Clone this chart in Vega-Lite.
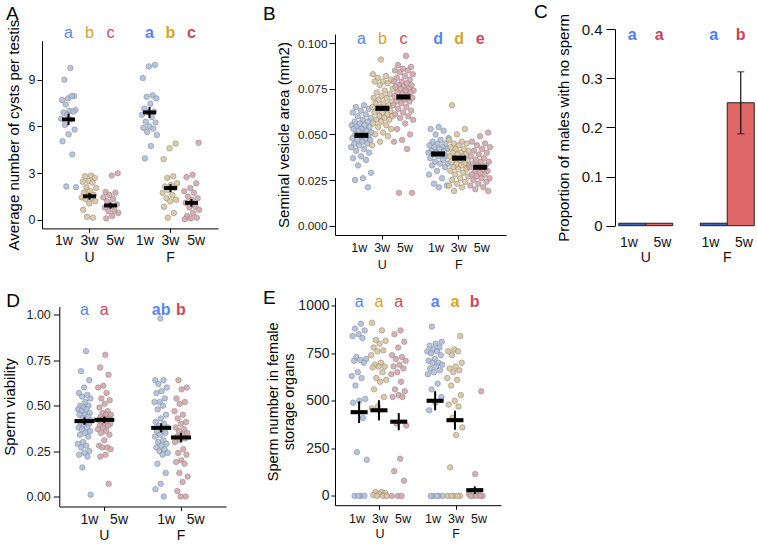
{
"$schema":"https://vega.github.io/schema/vega-lite/v6.json",
"padding":{"left":2,"top":3,"right":0,"bottom":0},
"background":"white",
"config":{"view":{"stroke":null},"font":"Liberation Sans",
 "axis":{"domainColor":"#000","tickColor":"#000","labelColor":"#222","titleColor":"#000","titleFontWeight":"normal","grid":false,"labelFont":"Liberation Sans","titleFont":"Liberation Sans"},
 "title":{"font":"Liberation Sans","fontWeight":"normal","fontSize":19,"anchor":"start","frame":"bounds","color":"#000"}},
"resolve":{"scale":{"fill":"independent","color":"independent"}},
"datasets":{
"A":[
{"g":"U","a":"1w","v":9.75},{"g":"U","a":"1w","v":9.0},{"g":"U","a":"1w","v":7.95},{"g":"U","a":"1w","v":7.8},{"g":"U","a":"1w","v":7.7},{"g":"U","a":"1w","v":7.95},{"g":"U","a":"1w","v":7.4},{"g":"U","a":"1w","v":7.05},{"g":"U","a":"1w","v":7.0},{"g":"U","a":"1w","v":6.9},{"g":"U","a":"1w","v":6.95},{"g":"U","a":"1w","v":6.75},{"g":"U","a":"1w","v":6.5},{"g":"U","a":"1w","v":6.45},{"g":"U","a":"1w","v":6.1},{"g":"U","a":"1w","v":5.8},{"g":"U","a":"1w","v":5.5},{"g":"U","a":"1w","v":5.05},{"g":"U","a":"1w","v":4.2},{"g":"U","a":"1w","v":2.15},{"g":"U","a":"1w","v":2.1},
{"g":"U","a":"3w","v":2.85},{"g":"U","a":"3w","v":2.8},{"g":"U","a":"3w","v":2.7},{"g":"U","a":"3w","v":2.5},{"g":"U","a":"3w","v":2.45},{"g":"U","a":"3w","v":2.4},{"g":"U","a":"3w","v":2.1},{"g":"U","a":"3w","v":2.05},{"g":"U","a":"3w","v":1.85},{"g":"U","a":"3w","v":1.75},{"g":"U","a":"3w","v":1.6},{"g":"U","a":"3w","v":1.55},{"g":"U","a":"3w","v":1.45},{"g":"U","a":"3w","v":1.4},{"g":"U","a":"3w","v":1.35},{"g":"U","a":"3w","v":1.2},{"g":"U","a":"3w","v":1.05},{"g":"U","a":"3w","v":0.65},{"g":"U","a":"3w","v":0.15},{"g":"U","a":"3w","v":0.2},
{"g":"U","a":"5w","v":3.0},{"g":"U","a":"5w","v":2.85},{"g":"U","a":"5w","v":1.8},{"g":"U","a":"5w","v":1.75},{"g":"U","a":"5w","v":1.6},{"g":"U","a":"5w","v":1.45},{"g":"U","a":"5w","v":1.35},{"g":"U","a":"5w","v":1.2},{"g":"U","a":"5w","v":1.0},{"g":"U","a":"5w","v":0.9},{"g":"U","a":"5w","v":0.8},{"g":"U","a":"5w","v":0.6},{"g":"U","a":"5w","v":0.55},{"g":"U","a":"5w","v":0.45},{"g":"U","a":"5w","v":0.25},{"g":"U","a":"5w","v":0.1},
{"g":"F","a":"1w","v":9.95},{"g":"F","a":"1w","v":9.85},{"g":"F","a":"1w","v":9.1},{"g":"F","a":"1w","v":8.0},{"g":"F","a":"1w","v":7.9},{"g":"F","a":"1w","v":7.8},{"g":"F","a":"1w","v":7.45},{"g":"F","a":"1w","v":7.15},{"g":"F","a":"1w","v":6.95},{"g":"F","a":"1w","v":6.9},{"g":"F","a":"1w","v":6.75},{"g":"F","a":"1w","v":6.6},{"g":"F","a":"1w","v":6.3},{"g":"F","a":"1w","v":6.25},{"g":"F","a":"1w","v":6.0},{"g":"F","a":"1w","v":5.9},{"g":"F","a":"1w","v":5.85},{"g":"F","a":"1w","v":5.65},{"g":"F","a":"1w","v":5.45},{"g":"F","a":"1w","v":4.75},{"g":"F","a":"1w","v":3.95},
{"g":"F","a":"3w","v":4.9},{"g":"F","a":"3w","v":4.6},{"g":"F","a":"3w","v":3.9},{"g":"F","a":"3w","v":2.8},{"g":"F","a":"3w","v":2.7},{"g":"F","a":"3w","v":2.35},{"g":"F","a":"3w","v":2.25},{"g":"F","a":"3w","v":2.15},{"g":"F","a":"3w","v":2.05},{"g":"F","a":"3w","v":1.9},{"g":"F","a":"3w","v":1.75},{"g":"F","a":"3w","v":1.6},{"g":"F","a":"3w","v":1.4},{"g":"F","a":"3w","v":1.3},{"g":"F","a":"3w","v":1.2},{"g":"F","a":"3w","v":0.85},{"g":"F","a":"3w","v":0.45},{"g":"F","a":"3w","v":0.15},
{"g":"F","a":"5w","v":4.95},{"g":"F","a":"5w","v":2.9},{"g":"F","a":"5w","v":2.75},{"g":"F","a":"5w","v":2.35},{"g":"F","a":"5w","v":2.05},{"g":"F","a":"5w","v":1.85},{"g":"F","a":"5w","v":1.75},{"g":"F","a":"5w","v":1.5},{"g":"F","a":"5w","v":1.4},{"g":"F","a":"5w","v":1.3},{"g":"F","a":"5w","v":1.1},{"g":"F","a":"5w","v":0.85},{"g":"F","a":"5w","v":0.8},{"g":"F","a":"5w","v":0.65},{"g":"F","a":"5w","v":0.45},{"g":"F","a":"5w","v":0.25},{"g":"F","a":"5w","v":0.15},{"g":"F","a":"5w","v":0.1},{"g":"F","a":"5w","v":0.05}
],
"Am":[{"g":"U","a":"1w","m":6.45,"lo":6.08,"hi":6.82},{"g":"U","a":"3w","m":1.52,"lo":1.3,"hi":1.74},{"g":"U","a":"5w","m":0.93,"lo":0.73,"hi":1.13},{"g":"F","a":"1w","m":6.9,"lo":6.55,"hi":7.25},{"g":"F","a":"3w","m":2.05,"lo":1.8,"hi":2.3},{"g":"F","a":"5w","m":1.1,"lo":0.85,"hi":1.35}],
"Al":[{"g":"U","a":"1w","t":"a"},{"g":"U","a":"3w","t":"b"},{"g":"U","a":"5w","t":"c"},{"g":"F","a":"1w","t":"a"},{"g":"F","a":"3w","t":"b"},{"g":"F","a":"5w","t":"c"}],
"B":[
{"g":"U","a":"1w","v":0.066},{"g":"U","a":"1w","v":0.065},{"g":"U","a":"1w","v":0.064},{"g":"U","a":"1w","v":0.063},{"g":"U","a":"1w","v":0.062},{"g":"U","a":"1w","v":0.061},{"g":"U","a":"1w","v":0.060},{"g":"U","a":"1w","v":0.059},{"g":"U","a":"1w","v":0.058},{"g":"U","a":"1w","v":0.057},{"g":"U","a":"1w","v":0.057},{"g":"U","a":"1w","v":0.056},{"g":"U","a":"1w","v":0.055},{"g":"U","a":"1w","v":0.055},{"g":"U","a":"1w","v":0.054},{"g":"U","a":"1w","v":0.054},{"g":"U","a":"1w","v":0.053},{"g":"U","a":"1w","v":0.053},{"g":"U","a":"1w","v":0.052},{"g":"U","a":"1w","v":0.052},{"g":"U","a":"1w","v":0.051},{"g":"U","a":"1w","v":0.050},{"g":"U","a":"1w","v":0.050},{"g":"U","a":"1w","v":0.049},{"g":"U","a":"1w","v":0.049},{"g":"U","a":"1w","v":0.048},{"g":"U","a":"1w","v":0.048},{"g":"U","a":"1w","v":0.047},{"g":"U","a":"1w","v":0.047},{"g":"U","a":"1w","v":0.046},{"g":"U","a":"1w","v":0.045},{"g":"U","a":"1w","v":0.045},{"g":"U","a":"1w","v":0.044},{"g":"U","a":"1w","v":0.043},{"g":"U","a":"1w","v":0.042},{"g":"U","a":"1w","v":0.041},{"g":"U","a":"1w","v":0.040},{"g":"U","a":"1w","v":0.038},{"g":"U","a":"1w","v":0.037},{"g":"U","a":"1w","v":0.036},{"g":"U","a":"1w","v":0.033},{"g":"U","a":"1w","v":0.029},{"g":"U","a":"1w","v":0.026},{"g":"U","a":"1w","v":0.025},{"g":"U","a":"1w","v":0.021},
{"g":"U","a":"3w","v":0.091},{"g":"U","a":"3w","v":0.083},{"g":"U","a":"3w","v":0.082},{"g":"U","a":"3w","v":0.081},{"g":"U","a":"3w","v":0.080},{"g":"U","a":"3w","v":0.079},{"g":"U","a":"3w","v":0.079},{"g":"U","a":"3w","v":0.078},{"g":"U","a":"3w","v":0.077},{"g":"U","a":"3w","v":0.075},{"g":"U","a":"3w","v":0.074},{"g":"U","a":"3w","v":0.073},{"g":"U","a":"3w","v":0.072},{"g":"U","a":"3w","v":0.071},{"g":"U","a":"3w","v":0.070},{"g":"U","a":"3w","v":0.070},{"g":"U","a":"3w","v":0.069},{"g":"U","a":"3w","v":0.068},{"g":"U","a":"3w","v":0.067},{"g":"U","a":"3w","v":0.067},{"g":"U","a":"3w","v":0.066},{"g":"U","a":"3w","v":0.065},{"g":"U","a":"3w","v":0.065},{"g":"U","a":"3w","v":0.064},{"g":"U","a":"3w","v":0.063},{"g":"U","a":"3w","v":0.063},{"g":"U","a":"3w","v":0.062},{"g":"U","a":"3w","v":0.062},{"g":"U","a":"3w","v":0.061},{"g":"U","a":"3w","v":0.060},{"g":"U","a":"3w","v":0.060},{"g":"U","a":"3w","v":0.059},{"g":"U","a":"3w","v":0.058},{"g":"U","a":"3w","v":0.058},{"g":"U","a":"3w","v":0.057},{"g":"U","a":"3w","v":0.056},{"g":"U","a":"3w","v":0.055},{"g":"U","a":"3w","v":0.054},{"g":"U","a":"3w","v":0.053},{"g":"U","a":"3w","v":0.051},{"g":"U","a":"3w","v":0.050},{"g":"U","a":"3w","v":0.049},{"g":"U","a":"3w","v":0.046},{"g":"U","a":"3w","v":0.044},
{"g":"U","a":"5w","v":0.093},{"g":"U","a":"5w","v":0.088},{"g":"U","a":"5w","v":0.087},{"g":"U","a":"5w","v":0.086},{"g":"U","a":"5w","v":0.085},{"g":"U","a":"5w","v":0.085},{"g":"U","a":"5w","v":0.084},{"g":"U","a":"5w","v":0.083},{"g":"U","a":"5w","v":0.082},{"g":"U","a":"5w","v":0.081},{"g":"U","a":"5w","v":0.080},{"g":"U","a":"5w","v":0.079},{"g":"U","a":"5w","v":0.079},{"g":"U","a":"5w","v":0.078},{"g":"U","a":"5w","v":0.077},{"g":"U","a":"5w","v":0.077},{"g":"U","a":"5w","v":0.076},{"g":"U","a":"5w","v":0.076},{"g":"U","a":"5w","v":0.075},{"g":"U","a":"5w","v":0.075},{"g":"U","a":"5w","v":0.074},{"g":"U","a":"5w","v":0.074},{"g":"U","a":"5w","v":0.073},{"g":"U","a":"5w","v":0.073},{"g":"U","a":"5w","v":0.072},{"g":"U","a":"5w","v":0.071},{"g":"U","a":"5w","v":0.071},{"g":"U","a":"5w","v":0.070},{"g":"U","a":"5w","v":0.070},{"g":"U","a":"5w","v":0.069},{"g":"U","a":"5w","v":0.068},{"g":"U","a":"5w","v":0.068},{"g":"U","a":"5w","v":0.067},{"g":"U","a":"5w","v":0.066},{"g":"U","a":"5w","v":0.065},{"g":"U","a":"5w","v":0.064},{"g":"U","a":"5w","v":0.063},{"g":"U","a":"5w","v":0.062},{"g":"U","a":"5w","v":0.061},{"g":"U","a":"5w","v":0.060},{"g":"U","a":"5w","v":0.059},{"g":"U","a":"5w","v":0.058},{"g":"U","a":"5w","v":0.056},{"g":"U","a":"5w","v":0.053},{"g":"U","a":"5w","v":0.050},{"g":"U","a":"5w","v":0.047},{"g":"U","a":"5w","v":0.046},{"g":"U","a":"5w","v":0.042},{"g":"U","a":"5w","v":0.018},{"g":"U","a":"5w","v":0.018},
{"g":"F","a":"1w","v":0.054},{"g":"F","a":"1w","v":0.053},{"g":"F","a":"1w","v":0.052},{"g":"F","a":"1w","v":0.050},{"g":"F","a":"1w","v":0.048},{"g":"F","a":"1w","v":0.047},{"g":"F","a":"1w","v":0.046},{"g":"F","a":"1w","v":0.045},{"g":"F","a":"1w","v":0.045},{"g":"F","a":"1w","v":0.044},{"g":"F","a":"1w","v":0.043},{"g":"F","a":"1w","v":0.043},{"g":"F","a":"1w","v":0.042},{"g":"F","a":"1w","v":0.042},{"g":"F","a":"1w","v":0.041},{"g":"F","a":"1w","v":0.041},{"g":"F","a":"1w","v":0.040},{"g":"F","a":"1w","v":0.040},{"g":"F","a":"1w","v":0.039},{"g":"F","a":"1w","v":0.039},{"g":"F","a":"1w","v":0.038},{"g":"F","a":"1w","v":0.038},{"g":"F","a":"1w","v":0.037},{"g":"F","a":"1w","v":0.036},{"g":"F","a":"1w","v":0.035},{"g":"F","a":"1w","v":0.034},{"g":"F","a":"1w","v":0.034},{"g":"F","a":"1w","v":0.033},{"g":"F","a":"1w","v":0.032},{"g":"F","a":"1w","v":0.030},{"g":"F","a":"1w","v":0.028},{"g":"F","a":"1w","v":0.026},{"g":"F","a":"1w","v":0.023},{"g":"F","a":"1w","v":0.022},{"g":"F","a":"1w","v":0.021},
{"g":"F","a":"3w","v":0.066},{"g":"F","a":"3w","v":0.053},{"g":"F","a":"3w","v":0.050},{"g":"F","a":"3w","v":0.047},{"g":"F","a":"3w","v":0.046},{"g":"F","a":"3w","v":0.045},{"g":"F","a":"3w","v":0.045},{"g":"F","a":"3w","v":0.044},{"g":"F","a":"3w","v":0.043},{"g":"F","a":"3w","v":0.042},{"g":"F","a":"3w","v":0.042},{"g":"F","a":"3w","v":0.041},{"g":"F","a":"3w","v":0.040},{"g":"F","a":"3w","v":0.040},{"g":"F","a":"3w","v":0.039},{"g":"F","a":"3w","v":0.039},{"g":"F","a":"3w","v":0.038},{"g":"F","a":"3w","v":0.038},{"g":"F","a":"3w","v":0.037},{"g":"F","a":"3w","v":0.036},{"g":"F","a":"3w","v":0.036},{"g":"F","a":"3w","v":0.035},{"g":"F","a":"3w","v":0.034},{"g":"F","a":"3w","v":0.034},{"g":"F","a":"3w","v":0.033},{"g":"F","a":"3w","v":0.033},{"g":"F","a":"3w","v":0.032},{"g":"F","a":"3w","v":0.031},{"g":"F","a":"3w","v":0.031},{"g":"F","a":"3w","v":0.030},{"g":"F","a":"3w","v":0.029},{"g":"F","a":"3w","v":0.028},{"g":"F","a":"3w","v":0.027},{"g":"F","a":"3w","v":0.026},{"g":"F","a":"3w","v":0.025},{"g":"F","a":"3w","v":0.024},{"g":"F","a":"3w","v":0.023},{"g":"F","a":"3w","v":0.022},{"g":"F","a":"3w","v":0.021},{"g":"F","a":"3w","v":0.019},
{"g":"F","a":"5w","v":0.051},{"g":"F","a":"5w","v":0.049},{"g":"F","a":"5w","v":0.046},{"g":"F","a":"5w","v":0.045},{"g":"F","a":"5w","v":0.044},{"g":"F","a":"5w","v":0.043},{"g":"F","a":"5w","v":0.042},{"g":"F","a":"5w","v":0.041},{"g":"F","a":"5w","v":0.040},{"g":"F","a":"5w","v":0.039},{"g":"F","a":"5w","v":0.038},{"g":"F","a":"5w","v":0.037},{"g":"F","a":"5w","v":0.036},{"g":"F","a":"5w","v":0.035},{"g":"F","a":"5w","v":0.035},{"g":"F","a":"5w","v":0.034},{"g":"F","a":"5w","v":0.033},{"g":"F","a":"5w","v":0.033},{"g":"F","a":"5w","v":0.032},{"g":"F","a":"5w","v":0.031},{"g":"F","a":"5w","v":0.030},{"g":"F","a":"5w","v":0.030},{"g":"F","a":"5w","v":0.029},{"g":"F","a":"5w","v":0.028},{"g":"F","a":"5w","v":0.028},{"g":"F","a":"5w","v":0.027},{"g":"F","a":"5w","v":0.026},{"g":"F","a":"5w","v":0.026},{"g":"F","a":"5w","v":0.025},{"g":"F","a":"5w","v":0.024},{"g":"F","a":"5w","v":0.023},{"g":"F","a":"5w","v":0.022},{"g":"F","a":"5w","v":0.021},{"g":"F","a":"5w","v":0.020},{"g":"F","a":"5w","v":0.019}
],
"Bm":[{"g":"U","a":"1w","m":0.0495,"lo":0.0483,"hi":0.0507},{"g":"U","a":"3w","m":0.0643,"lo":0.0631,"hi":0.0655},{"g":"U","a":"5w","m":0.0705,"lo":0.0693,"hi":0.0717},{"g":"F","a":"1w","m":0.0393,"lo":0.0383,"hi":0.0403},{"g":"F","a":"3w","m":0.037,"lo":0.036,"hi":0.038},{"g":"F","a":"5w","m":0.032,"lo":0.031,"hi":0.033}],
"Bl":[{"g":"U","a":"1w","t":"a"},{"g":"U","a":"3w","t":"b"},{"g":"U","a":"5w","t":"c"},{"g":"F","a":"1w","t":"d"},{"g":"F","a":"3w","t":"d"},{"g":"F","a":"5w","t":"e"}],
"C":[{"g":"U","a":"1w","v":0.005},{"g":"U","a":"5w","v":0.005},{"g":"F","a":"1w","v":0.005},{"g":"F","a":"5w","v":0.25,"lo":0.187,"hi":0.313}],
"Cl":[{"g":"U","a":"1w","t":"a"},{"g":"U","a":"5w","t":"a"},{"g":"F","a":"1w","t":"a"},{"g":"F","a":"5w","t":"b"}],
"D":[
{"g":"U","a":"1w","v":0.80},{"g":"U","a":"1w","v":0.69},{"g":"U","a":"1w","v":0.64},{"g":"U","a":"1w","v":0.60},{"g":"U","a":"1w","v":0.57},{"g":"U","a":"1w","v":0.56},{"g":"U","a":"1w","v":0.55},{"g":"U","a":"1w","v":0.54},{"g":"U","a":"1w","v":0.52},{"g":"U","a":"1w","v":0.50},{"g":"U","a":"1w","v":0.50},{"g":"U","a":"1w","v":0.49},{"g":"U","a":"1w","v":0.48},{"g":"U","a":"1w","v":0.48},{"g":"U","a":"1w","v":0.47},{"g":"U","a":"1w","v":0.46},{"g":"U","a":"1w","v":0.45},{"g":"U","a":"1w","v":0.45},{"g":"U","a":"1w","v":0.44},{"g":"U","a":"1w","v":0.43},{"g":"U","a":"1w","v":0.42},{"g":"U","a":"1w","v":0.41},{"g":"U","a":"1w","v":0.40},{"g":"U","a":"1w","v":0.40},{"g":"U","a":"1w","v":0.39},{"g":"U","a":"1w","v":0.38},{"g":"U","a":"1w","v":0.38},{"g":"U","a":"1w","v":0.37},{"g":"U","a":"1w","v":0.36},{"g":"U","a":"1w","v":0.35},{"g":"U","a":"1w","v":0.34},{"g":"U","a":"1w","v":0.33},{"g":"U","a":"1w","v":0.30},{"g":"U","a":"1w","v":0.29},{"g":"U","a":"1w","v":0.28},{"g":"U","a":"1w","v":0.27},{"g":"U","a":"1w","v":0.25},{"g":"U","a":"1w","v":0.24},{"g":"U","a":"1w","v":0.23},{"g":"U","a":"1w","v":0.22},{"g":"U","a":"1w","v":0.16},{"g":"U","a":"1w","v":0.01},
{"g":"U","a":"5w","v":0.78},{"g":"U","a":"5w","v":0.71},{"g":"U","a":"5w","v":0.67},{"g":"U","a":"5w","v":0.61},{"g":"U","a":"5w","v":0.60},{"g":"U","a":"5w","v":0.57},{"g":"U","a":"5w","v":0.54},{"g":"U","a":"5w","v":0.53},{"g":"U","a":"5w","v":0.51},{"g":"U","a":"5w","v":0.49},{"g":"U","a":"5w","v":0.47},{"g":"U","a":"5w","v":0.46},{"g":"U","a":"5w","v":0.45},{"g":"U","a":"5w","v":0.45},{"g":"U","a":"5w","v":0.44},{"g":"U","a":"5w","v":0.43},{"g":"U","a":"5w","v":0.43},{"g":"U","a":"5w","v":0.42},{"g":"U","a":"5w","v":0.42},{"g":"U","a":"5w","v":0.41},{"g":"U","a":"5w","v":0.40},{"g":"U","a":"5w","v":0.40},{"g":"U","a":"5w","v":0.39},{"g":"U","a":"5w","v":0.39},{"g":"U","a":"5w","v":0.38},{"g":"U","a":"5w","v":0.37},{"g":"U","a":"5w","v":0.36},{"g":"U","a":"5w","v":0.35},{"g":"U","a":"5w","v":0.34},{"g":"U","a":"5w","v":0.31},{"g":"U","a":"5w","v":0.28},{"g":"U","a":"5w","v":0.27},{"g":"U","a":"5w","v":0.27},{"g":"U","a":"5w","v":0.26},{"g":"U","a":"5w","v":0.23},{"g":"U","a":"5w","v":0.22},{"g":"U","a":"5w","v":0.07},
{"g":"F","a":"1w","v":0.98},{"g":"F","a":"1w","v":0.64},{"g":"F","a":"1w","v":0.64},{"g":"F","a":"1w","v":0.62},{"g":"F","a":"1w","v":0.60},{"g":"F","a":"1w","v":0.58},{"g":"F","a":"1w","v":0.57},{"g":"F","a":"1w","v":0.54},{"g":"F","a":"1w","v":0.52},{"g":"F","a":"1w","v":0.52},{"g":"F","a":"1w","v":0.50},{"g":"F","a":"1w","v":0.48},{"g":"F","a":"1w","v":0.45},{"g":"F","a":"1w","v":0.43},{"g":"F","a":"1w","v":0.41},{"g":"F","a":"1w","v":0.40},{"g":"F","a":"1w","v":0.39},{"g":"F","a":"1w","v":0.38},{"g":"F","a":"1w","v":0.37},{"g":"F","a":"1w","v":0.36},{"g":"F","a":"1w","v":0.35},{"g":"F","a":"1w","v":0.34},{"g":"F","a":"1w","v":0.33},{"g":"F","a":"1w","v":0.31},{"g":"F","a":"1w","v":0.30},{"g":"F","a":"1w","v":0.29},{"g":"F","a":"1w","v":0.28},{"g":"F","a":"1w","v":0.27},{"g":"F","a":"1w","v":0.26},{"g":"F","a":"1w","v":0.25},{"g":"F","a":"1w","v":0.24},{"g":"F","a":"1w","v":0.23},{"g":"F","a":"1w","v":0.18},{"g":"F","a":"1w","v":0.13},{"g":"F","a":"1w","v":0.07},{"g":"F","a":"1w","v":0.04},{"g":"F","a":"1w","v":0.00},
{"g":"F","a":"5w","v":0.64},{"g":"F","a":"5w","v":0.60},{"g":"F","a":"5w","v":0.59},{"g":"F","a":"5w","v":0.54},{"g":"F","a":"5w","v":0.52},{"g":"F","a":"5w","v":0.51},{"g":"F","a":"5w","v":0.47},{"g":"F","a":"5w","v":0.45},{"g":"F","a":"5w","v":0.43},{"g":"F","a":"5w","v":0.41},{"g":"F","a":"5w","v":0.40},{"g":"F","a":"5w","v":0.38},{"g":"F","a":"5w","v":0.37},{"g":"F","a":"5w","v":0.36},{"g":"F","a":"5w","v":0.35},{"g":"F","a":"5w","v":0.34},{"g":"F","a":"5w","v":0.33},{"g":"F","a":"5w","v":0.32},{"g":"F","a":"5w","v":0.31},{"g":"F","a":"5w","v":0.30},{"g":"F","a":"5w","v":0.26},{"g":"F","a":"5w","v":0.24},{"g":"F","a":"5w","v":0.23},{"g":"F","a":"5w","v":0.20},{"g":"F","a":"5w","v":0.19},{"g":"F","a":"5w","v":0.18},{"g":"F","a":"5w","v":0.13},{"g":"F","a":"5w","v":0.11},{"g":"F","a":"5w","v":0.08},{"g":"F","a":"5w","v":0.03},{"g":"F","a":"5w","v":0.00},{"g":"F","a":"5w","v":0.00}
],
"Dm":[{"g":"U","a":"1w","m":0.415,"lo":0.395,"hi":0.435},{"g":"U","a":"5w","m":0.422,"lo":0.404,"hi":0.44},{"g":"F","a":"1w","m":0.378,"lo":0.353,"hi":0.403},{"g":"F","a":"5w","m":0.325,"lo":0.3,"hi":0.35}],
"Dl":[{"g":"U","a":"1w","t":"a"},{"g":"U","a":"5w","t":"a"},{"g":"F","a":"1w","t":"ab"},{"g":"F","a":"5w","t":"b"}],
"E":[
{"g":"U","a":"1w","v":905},{"g":"U","a":"1w","v":880},{"g":"U","a":"1w","v":870},{"g":"U","a":"1w","v":850},{"g":"U","a":"1w","v":840},{"g":"U","a":"1w","v":830},{"g":"U","a":"1w","v":730},{"g":"U","a":"1w","v":720},{"g":"U","a":"1w","v":715},{"g":"U","a":"1w","v":710},{"g":"U","a":"1w","v":700},{"g":"U","a":"1w","v":650},{"g":"U","a":"1w","v":630},{"g":"U","a":"1w","v":620},{"g":"U","a":"1w","v":580},{"g":"U","a":"1w","v":510},{"g":"U","a":"1w","v":500},{"g":"U","a":"1w","v":490},{"g":"U","a":"1w","v":410},{"g":"U","a":"1w","v":230},{"g":"U","a":"1w","v":190},{"g":"U","a":"1w","v":0},{"g":"U","a":"1w","v":0},{"g":"U","a":"1w","v":0},{"g":"U","a":"1w","v":0},
{"g":"U","a":"3w","v":910},{"g":"U","a":"3w","v":870},{"g":"U","a":"3w","v":820},{"g":"U","a":"3w","v":815},{"g":"U","a":"3w","v":800},{"g":"U","a":"3w","v":780},{"g":"U","a":"3w","v":765},{"g":"U","a":"3w","v":760},{"g":"U","a":"3w","v":740},{"g":"U","a":"3w","v":700},{"g":"U","a":"3w","v":690},{"g":"U","a":"3w","v":680},{"g":"U","a":"3w","v":680},{"g":"U","a":"3w","v":675},{"g":"U","a":"3w","v":650},{"g":"U","a":"3w","v":620},{"g":"U","a":"3w","v":610},{"g":"U","a":"3w","v":600},{"g":"U","a":"3w","v":560},{"g":"U","a":"3w","v":520},{"g":"U","a":"3w","v":470},{"g":"U","a":"3w","v":460},{"g":"U","a":"3w","v":20},{"g":"U","a":"3w","v":20},{"g":"U","a":"3w","v":15},{"g":"U","a":"3w","v":10},{"g":"U","a":"3w","v":5},{"g":"U","a":"3w","v":0},{"g":"U","a":"3w","v":0},{"g":"U","a":"3w","v":0},
{"g":"U","a":"5w","v":870},{"g":"U","a":"5w","v":850},{"g":"U","a":"5w","v":810},{"g":"U","a":"5w","v":780},{"g":"U","a":"5w","v":740},{"g":"U","a":"5w","v":730},{"g":"U","a":"5w","v":720},{"g":"U","a":"5w","v":710},{"g":"U","a":"5w","v":690},{"g":"U","a":"5w","v":680},{"g":"U","a":"5w","v":670},{"g":"U","a":"5w","v":650},{"g":"U","a":"5w","v":640},{"g":"U","a":"5w","v":600},{"g":"U","a":"5w","v":560},{"g":"U","a":"5w","v":550},{"g":"U","a":"5w","v":530},{"g":"U","a":"5w","v":520},{"g":"U","a":"5w","v":520},{"g":"U","a":"5w","v":380},{"g":"U","a":"5w","v":370},{"g":"U","a":"5w","v":195},{"g":"U","a":"5w","v":130},{"g":"U","a":"5w","v":80},{"g":"U","a":"5w","v":0},{"g":"U","a":"5w","v":0},{"g":"U","a":"5w","v":0},
{"g":"F","a":"1w","v":890},{"g":"F","a":"1w","v":810},{"g":"F","a":"1w","v":800},{"g":"F","a":"1w","v":790},{"g":"F","a":"1w","v":780},{"g":"F","a":"1w","v":770},{"g":"F","a":"1w","v":760},{"g":"F","a":"1w","v":760},{"g":"F","a":"1w","v":750},{"g":"F","a":"1w","v":740},{"g":"F","a":"1w","v":720},{"g":"F","a":"1w","v":710},{"g":"F","a":"1w","v":700},{"g":"F","a":"1w","v":700},{"g":"F","a":"1w","v":690},{"g":"F","a":"1w","v":680},{"g":"F","a":"1w","v":670},{"g":"F","a":"1w","v":660},{"g":"F","a":"1w","v":650},{"g":"F","a":"1w","v":640},{"g":"F","a":"1w","v":590},{"g":"F","a":"1w","v":560},{"g":"F","a":"1w","v":520},{"g":"F","a":"1w","v":490},{"g":"F","a":"1w","v":450},{"g":"F","a":"1w","v":0},{"g":"F","a":"1w","v":0},{"g":"F","a":"1w","v":0},{"g":"F","a":"1w","v":0},{"g":"F","a":"1w","v":0},
{"g":"F","a":"3w","v":840},{"g":"F","a":"3w","v":770},{"g":"F","a":"3w","v":760},{"g":"F","a":"3w","v":760},{"g":"F","a":"3w","v":740},{"g":"F","a":"3w","v":700},{"g":"F","a":"3w","v":680},{"g":"F","a":"3w","v":670},{"g":"F","a":"3w","v":660},{"g":"F","a":"3w","v":650},{"g":"F","a":"3w","v":620},{"g":"F","a":"3w","v":610},{"g":"F","a":"3w","v":580},{"g":"F","a":"3w","v":530},{"g":"F","a":"3w","v":500},{"g":"F","a":"3w","v":480},{"g":"F","a":"3w","v":470},{"g":"F","a":"3w","v":410},{"g":"F","a":"3w","v":360},{"g":"F","a":"3w","v":320},{"g":"F","a":"3w","v":150},{"g":"F","a":"3w","v":0},{"g":"F","a":"3w","v":0},{"g":"F","a":"3w","v":0},{"g":"F","a":"3w","v":0},{"g":"F","a":"3w","v":0},
{"g":"F","a":"5w","v":550},{"g":"F","a":"5w","v":115},{"g":"F","a":"5w","v":10},{"g":"F","a":"5w","v":5},{"g":"F","a":"5w","v":0},{"g":"F","a":"5w","v":0},{"g":"F","a":"5w","v":0},{"g":"F","a":"5w","v":0},{"g":"F","a":"5w","v":0}
],
"Em":[{"g":"U","a":"1w","m":440,"lo":383,"hi":497},{"g":"U","a":"3w","m":450,"lo":397,"hi":503},{"g":"U","a":"5w","m":390,"lo":345,"hi":435},{"g":"F","a":"1w","m":500,"lo":450,"hi":550},{"g":"F","a":"3w","m":398,"lo":348,"hi":448},{"g":"F","a":"5w","m":30,"lo":10,"hi":50}],
"El":[{"g":"U","a":"1w","t":"a"},{"g":"U","a":"3w","t":"a"},{"g":"U","a":"5w","t":"a"},{"g":"F","a":"1w","t":"a"},{"g":"F","a":"3w","t":"a"},{"g":"F","a":"5w","t":"b"}]
},
"vconcat":[
{"resolve":{"scale":{"fill":"independent","color":"independent"}},"hconcat":[
 {"resolve":{"scale":{"fill":"independent","color":"independent"}},"hconcat":[
  {"title":{"text":"A","offset":-4.5},"width":176,"height":199.4,
   "layer":[
    {"data":{"name":"A"},
     "transform":[{"window":[{"op":"row_number","as":"rn"}]},{"calculate":"indexof(['1w','3w','5w'],datum.a)+((datum.rn*0.618034)%1-0.5)*0.75","as":"off"}],
     "mark":{"type":"point","filled":true,"size":30,"stroke":"#8c8c8c","strokeWidth":0.7,"opacity":0.9},
     "encoding":{
      "x":{"field":"g","type":"nominal","scale":{"domain":["U","F"],"paddingInner":0.222,"paddingOuter":0.1975},"axis":{"title":null,"labelAngle":0,"labelExpr":"['1w\u00a0\u00a03w\u00a0\u00a05w', datum.value]","labelFontSize":14,"labelLineHeight":17,"tickSize":4,"labelPadding":1,"labelColor":"#111"}},
      "xOffset":{"field":"off","type":"quantitative","scale":{"domain":[-0.5,2.5]}},
      "y":{"field":"v","type":"quantitative","scale":{"domain":[-0.54,11.5],"range":[199.4,11.7],"nice":false,"zero":false},"axis":{"title":"Average number of cysts per testis","values":[0,3,6,9],"titleFontSize":15,"labelFontSize":12.5,"tickSize":5,"labelPadding":2,"minExtent":14,"maxExtent":14,"titlePadding":7}},
      "fill":{"field":"a","type":"nominal","scale":{"domain":["1w","3w","5w"],"range":["#abc0e3","#dfc698","#dba5aa"]},"legend":null}}},
    {"data":{"name":"Am"},"transform":[{"calculate":"indexof(['1w','3w','5w'],datum.a)","as":"off"}],
     "mark":{"type":"point","filled":true,"shape":"M-1,-0.3H1V0.3H-1Z","size":169,"color":"#000","opacity":1},
     "encoding":{"x":{"field":"g","type":"nominal"},"xOffset":{"field":"off","type":"quantitative"},"y":{"field":"m","type":"quantitative"}}},
    {"data":{"name":"Am"},"transform":[{"calculate":"indexof(['1w','3w','5w'],datum.a)","as":"off"}],
     "mark":{"type":"rule","strokeWidth":2,"color":"#000"},
     "encoding":{"x":{"field":"g","type":"nominal"},"xOffset":{"field":"off","type":"quantitative"},"y":{"field":"lo","type":"quantitative"},"y2":{"field":"hi"}}},
    {"data":{"name":"Al"},"transform":[{"filter":"datum.g=='U'"},{"calculate":"indexof(['1w','3w','5w'],datum.a)","as":"off"}],
     "mark":{"type":"text","fontSize":16,"fontWeight":"normal","baseline":"middle"},
     "encoding":{"x":{"field":"g","type":"nominal"},"xOffset":{"field":"off","type":"quantitative"},"y":{"datum":12,"type":"quantitative"},"text":{"field":"t"},"color":{"field":"a","type":"nominal","scale":{"domain":["1w","3w","5w"],"range":["#5a84f2","#d6a32a","#c9485d"]},"legend":null}}},
    {"data":{"name":"Al"},"transform":[{"filter":"datum.g=='F'"},{"calculate":"indexof(['1w','3w','5w'],datum.a)","as":"off"}],
     "mark":{"type":"text","fontSize":16,"fontWeight":"bold","baseline":"middle"},
     "encoding":{"x":{"field":"g","type":"nominal"},"xOffset":{"field":"off","type":"quantitative"},"y":{"datum":12,"type":"quantitative"},"text":{"field":"t"},"color":{"field":"a","type":"nominal","legend":null}}}
   ]},
  {"title":{"text":"B","offset":5.5,"dx":-13},"width":171,"height":206,
   "layer":[
    {"data":{"name":"B"},
     "transform":[{"window":[{"op":"row_number","as":"rn"}]},{"calculate":"indexof(['1w','3w','5w'],datum.a)+((datum.rn*0.618034)%1-0.5)*1.0","as":"off"}],
     "mark":{"type":"point","filled":true,"size":30,"stroke":"#8c8c8c","strokeWidth":0.7,"opacity":0.9},
     "encoding":{
      "x":{"field":"g","type":"nominal","scale":{"domain":["U","F"],"paddingInner":0.186,"paddingOuter":0.2075},"axis":{"title":null,"labelAngle":0,"labelExpr":"['1w\u00a0\u00a03w\u00a0\u00a05w', datum.value]","labelFontSize":12.5,"labelLineHeight":17,"tickSize":4,"labelPadding":2,"labelColor":"#111"}},
      "xOffset":{"field":"off","type":"quantitative","scale":{"domain":[-0.5,2.5]}},
      "y":{"field":"v","type":"quantitative","scale":{"domain":[-0.0051,0.105],"range":[206,5],"nice":false,"zero":false},"axis":{"title":"Seminal vesicle area (mm2)","values":[0,0.025,0.05,0.075,0.1],"format":".3f","titleFontSize":15,"labelFontSize":11.8,"tickSize":6,"labelPadding":2,"minExtent":37,"maxExtent":37,"titlePadding":7}},
      "fill":{"field":"a","type":"nominal","scale":{"domain":["1w","3w","5w"],"range":["#abc0e3","#dfc698","#dba5aa"]},"legend":null}}},
    {"data":{"name":"Bm"},"transform":[{"calculate":"indexof(['1w','3w','5w'],datum.a)","as":"off"}],
     "mark":{"type":"point","filled":true,"shape":"M-1,-0.36H1V0.36H-1Z","size":196,"color":"#000","opacity":1},
     "encoding":{"x":{"field":"g","type":"nominal"},"xOffset":{"field":"off","type":"quantitative"},"y":{"field":"m","type":"quantitative"}}},
    {"data":{"name":"Bm"},"transform":[{"calculate":"indexof(['1w','3w','5w'],datum.a)","as":"off"}],
     "mark":{"type":"rule","strokeWidth":2,"color":"#000"},
     "encoding":{"x":{"field":"g","type":"nominal"},"xOffset":{"field":"off","type":"quantitative"},"y":{"field":"lo","type":"quantitative"},"y2":{"field":"hi"}}},
    {"data":{"name":"Bl"},"transform":[{"filter":"datum.g=='U'"},{"calculate":"indexof(['1w','3w','5w'],datum.a)","as":"off"}],
     "mark":{"type":"text","fontSize":16,"fontWeight":"normal","baseline":"middle"},
     "encoding":{"x":{"field":"g","type":"nominal"},"xOffset":{"field":"off","type":"quantitative"},"y":{"datum":0.1024,"type":"quantitative"},"text":{"field":"t"},"color":{"field":"a","type":"nominal","scale":{"domain":["1w","3w","5w"],"range":["#5a84f2","#d6a32a","#c9485d"]},"legend":null}}},
    {"data":{"name":"Bl"},"transform":[{"filter":"datum.g=='F'"},{"calculate":"indexof(['1w','3w','5w'],datum.a)","as":"off"}],
     "mark":{"type":"text","fontSize":16,"fontWeight":"bold","baseline":"middle"},
     "encoding":{"x":{"field":"g","type":"nominal"},"xOffset":{"field":"off","type":"quantitative"},"y":{"datum":0.1024,"type":"quantitative"},"text":{"field":"t"},"color":{"field":"a","type":"nominal","legend":null}}}
   ]}
 ],"spacing":45},
 {"title":{"text":"C","offset":-8.5,"dx":-22},"width":143,"height":196.7,
  "layer":[
   {"data":{"name":"C"},
    "mark":{"type":"bar","stroke":"#222","strokeWidth":1},
    "encoding":{
     "x":{"field":"g","type":"nominal","scale":{"domain":["U","F"],"paddingInner":0.337,"paddingOuter":0.046},"axis":{"title":null,"domain":false,"ticks":false,"labelAngle":0,"labelExpr":"['1w\u00a0\u00a0\u00a0\u00a05w', datum.value]","labelFontSize":14,"labelLineHeight":15,"labelPadding":9.5,"labelColor":"#111"}},
     "xOffset":{"field":"a","type":"nominal","scale":{"domain":["1w","5w"],"paddingInner":0,"paddingOuter":0}},
     "y":{"field":"v","type":"quantitative","scale":{"domain":[0,0.4],"nice":false},"axis":{"title":"Proportion of males with no sperm","values":[0,0.1,0.2,0.3,0.4],"labelExpr":"datum.value==0?'0':format(datum.value,'.1f')","titleFontSize":15,"labelFontSize":15,"tickSize":9,"labelPadding":4,"minExtent":34,"maxExtent":34,"titlePadding":10,"labelColor":"#111"}},
     "fill":{"field":"a","type":"nominal","scale":{"domain":["1w","5w"],"range":["#3b63b7","#e06767"]},"legend":null}}},
   {"data":{"name":"C"},"transform":[{"filter":"datum.lo != null"}],
    "mark":{"type":"rule","strokeWidth":1.2,"color":"#111"},
    "encoding":{"x":{"field":"g","type":"nominal"},"xOffset":{"field":"a","type":"nominal"},"y":{"field":"lo","type":"quantitative"},"y2":{"field":"hi"}}},
   {"data":{"name":"C"},"transform":[{"filter":"datum.lo != null"},{"fold":["lo","hi"],"as":["k","e"]}],
    "mark":{"type":"tick","size":7,"thickness":1.2,"color":"#111","orient":"horizontal"},
    "encoding":{"x":{"field":"g","type":"nominal"},"xOffset":{"field":"a","type":"nominal"},"y":{"field":"e","type":"quantitative"}}},
   {"data":{"name":"Cl"},
    "mark":{"type":"text","fontSize":16,"fontWeight":"bold","baseline":"middle"},
    "encoding":{"x":{"field":"g","type":"nominal"},"xOffset":{"field":"a","type":"nominal"},"y":{"datum":0.388,"type":"quantitative"},"text":{"field":"t"},"color":{"field":"a","type":"nominal","scale":{"domain":["1w","5w"],"range":["#4f7cf0","#c8435a"]},"legend":null}}}
  ]}
],"spacing":28},
{"resolve":{"scale":{"fill":"independent","color":"independent"}},"hconcat":[
 {"title":{"text":"D","offset":-13.5,"dx":4},"width":184,"height":209,
  "layer":[
   {"data":{"name":"D"},
    "transform":[{"window":[{"op":"row_number","as":"rn"}]},{"calculate":"indexof(['1w','5w'],datum.a)+((datum.rn*0.618034)%1-0.5)*0.68","as":"off"}],
    "mark":{"type":"point","filled":true,"size":30,"stroke":"#8c8c8c","strokeWidth":0.7,"opacity":0.9},
    "encoding":{
     "x":{"field":"g","type":"nominal","scale":{"domain":["U","F"],"range":[17.3,184],"paddingInner":0.225,"paddingOuter":0.199},"axis":{"title":null,"labelAngle":0,"labelExpr":"['1w\u00a0\u00a0\u00a05w', datum.value]","labelFontSize":14,"labelLineHeight":16,"tickSize":4,"labelPadding":1.5,"labelColor":"#111"}},
     "xOffset":{"field":"off","type":"quantitative","scale":{"domain":[-0.5,1.5]}},
     "y":{"field":"v","type":"quantitative","scale":{"domain":[-0.055,1.046],"range":[209,9],"nice":false,"zero":false},"axis":{"title":"Sperm viability","offset":-17.3,"values":[0,0.25,0.5,0.75,1],"format":".2f","titleFontSize":15,"labelFontSize":12.5,"tickSize":6,"labelPadding":3,"minExtent":33,"maxExtent":33,"titlePadding":9}},
     "fill":{"field":"a","type":"nominal","scale":{"domain":["1w","3w","5w"],"range":["#abc0e3","#dfc698","#dba5aa"]},"legend":null}}},
   {"data":{"name":"Dm"},"transform":[{"calculate":"indexof(['1w','5w'],datum.a)","as":"off"}],
    "mark":{"type":"point","filled":true,"shape":"M-1,-0.2H1V0.2H-1Z","size":400,"color":"#000","opacity":1},
    "encoding":{"x":{"field":"g","type":"nominal"},"xOffset":{"field":"off","type":"quantitative"},"y":{"field":"m","type":"quantitative"}}},
   {"data":{"name":"Dm"},"transform":[{"calculate":"indexof(['1w','5w'],datum.a)","as":"off"}],
    "mark":{"type":"rule","strokeWidth":2,"color":"#000"},
    "encoding":{"x":{"field":"g","type":"nominal"},"xOffset":{"field":"off","type":"quantitative"},"y":{"field":"lo","type":"quantitative"},"y2":{"field":"hi"}}},
   {"data":{"name":"Dl"},"transform":[{"filter":"datum.g=='U'"},{"calculate":"indexof(['1w','5w'],datum.a)","as":"off"}],
    "mark":{"type":"text","fontSize":16,"fontWeight":"normal","baseline":"middle"},
    "encoding":{"x":{"field":"g","type":"nominal"},"xOffset":{"field":"off","type":"quantitative"},"y":{"datum":1.027,"type":"quantitative"},"text":{"field":"t"},"color":{"field":"a","type":"nominal","scale":{"domain":["1w","3w","5w"],"range":["#5a84f2","#d6a32a","#c9485d"]},"legend":null}}},
   {"data":{"name":"Dl"},"transform":[{"filter":"datum.g=='F'"},{"calculate":"indexof(['1w','5w'],datum.a)","as":"off"}],
    "mark":{"type":"text","fontSize":16,"fontWeight":"bold","baseline":"middle"},
    "encoding":{"x":{"field":"g","type":"nominal"},"xOffset":{"field":"off","type":"quantitative"},"y":{"datum":1.027,"type":"quantitative"},"text":{"field":"t"},"color":{"field":"a","type":"nominal","legend":null}}}
  ]},
 {"title":{"text":"E","offset":-14,"dx":-2},"width":166,"height":207.7,
  "layer":[
   {"data":{"name":"E"},
    "transform":[{"window":[{"op":"row_number","as":"rn"}]},{"calculate":"indexof(['1w','3w','5w'],datum.a)+((datum.rn*0.618034)%1-0.5)*0.8","as":"off"}],
    "mark":{"type":"point","filled":true,"size":30,"stroke":"#8c8c8c","strokeWidth":0.7,"opacity":0.9},
    "encoding":{
     "x":{"field":"g","type":"nominal","scale":{"domain":["U","F"],"paddingInner":0.19,"paddingOuter":0.187},"axis":{"title":null,"labelAngle":0,"labelExpr":"['1w\u00a0\u00a03w\u00a0\u00a05w', datum.value]","labelFontSize":12.5,"labelLineHeight":15,"tickSize":4,"labelPadding":3,"labelColor":"#111"}},
     "xOffset":{"field":"off","type":"quantitative","scale":{"domain":[-0.5,2.5]}},
     "y":{"field":"v","type":"quantitative","scale":{"domain":[-49,1043],"nice":false,"zero":false},"axis":{"title":["Sperm number in female","storage organs"],"titleLineHeight":16,"values":[0,250,500,750,1000],"format":"d","titleFontSize":14.5,"labelFontSize":14,"tickSize":4,"labelPadding":2,"minExtent":37,"maxExtent":37,"titlePadding":2}},
     "fill":{"field":"a","type":"nominal","scale":{"domain":["1w","3w","5w"],"range":["#abc0e3","#dfc698","#dba5aa"]},"legend":null}}},
   {"data":{"name":"Em"},"transform":[{"calculate":"indexof(['1w','3w','5w'],datum.a)","as":"off"}],
    "mark":{"type":"point","filled":true,"shape":"M-1,-0.24H1V0.24H-1Z","size":289,"color":"#000","opacity":1},
    "encoding":{"x":{"field":"g","type":"nominal"},"xOffset":{"field":"off","type":"quantitative"},"y":{"field":"m","type":"quantitative"}}},
   {"data":{"name":"Em"},"transform":[{"calculate":"indexof(['1w','3w','5w'],datum.a)","as":"off"}],
    "mark":{"type":"rule","strokeWidth":2,"color":"#000"},
    "encoding":{"x":{"field":"g","type":"nominal"},"xOffset":{"field":"off","type":"quantitative"},"y":{"field":"lo","type":"quantitative"},"y2":{"field":"hi"}}},
   {"data":{"name":"El"},"transform":[{"filter":"datum.g=='U'"},{"calculate":"indexof(['1w','3w','5w'],datum.a)","as":"off"}],
    "mark":{"type":"text","fontSize":16,"fontWeight":"normal","baseline":"middle"},
    "encoding":{"x":{"field":"g","type":"nominal"},"xOffset":{"field":"off","type":"quantitative"},"y":{"datum":1019,"type":"quantitative"},"text":{"field":"t"},"color":{"field":"a","type":"nominal","scale":{"domain":["1w","3w","5w"],"range":["#5a84f2","#d6a32a","#c9485d"]},"legend":null}}},
   {"data":{"name":"El"},"transform":[{"filter":"datum.g=='F'"},{"calculate":"indexof(['1w','3w','5w'],datum.a)","as":"off"}],
    "mark":{"type":"text","fontSize":16,"fontWeight":"bold","baseline":"middle"},
    "encoding":{"x":{"field":"g","type":"nominal"},"xOffset":{"field":"off","type":"quantitative"},"y":{"datum":1019,"type":"quantitative"},"text":{"field":"t"},"color":{"field":"a","type":"nominal","legend":null}}}
  ]}
],"spacing":37}
],
"spacing":17.5
}
